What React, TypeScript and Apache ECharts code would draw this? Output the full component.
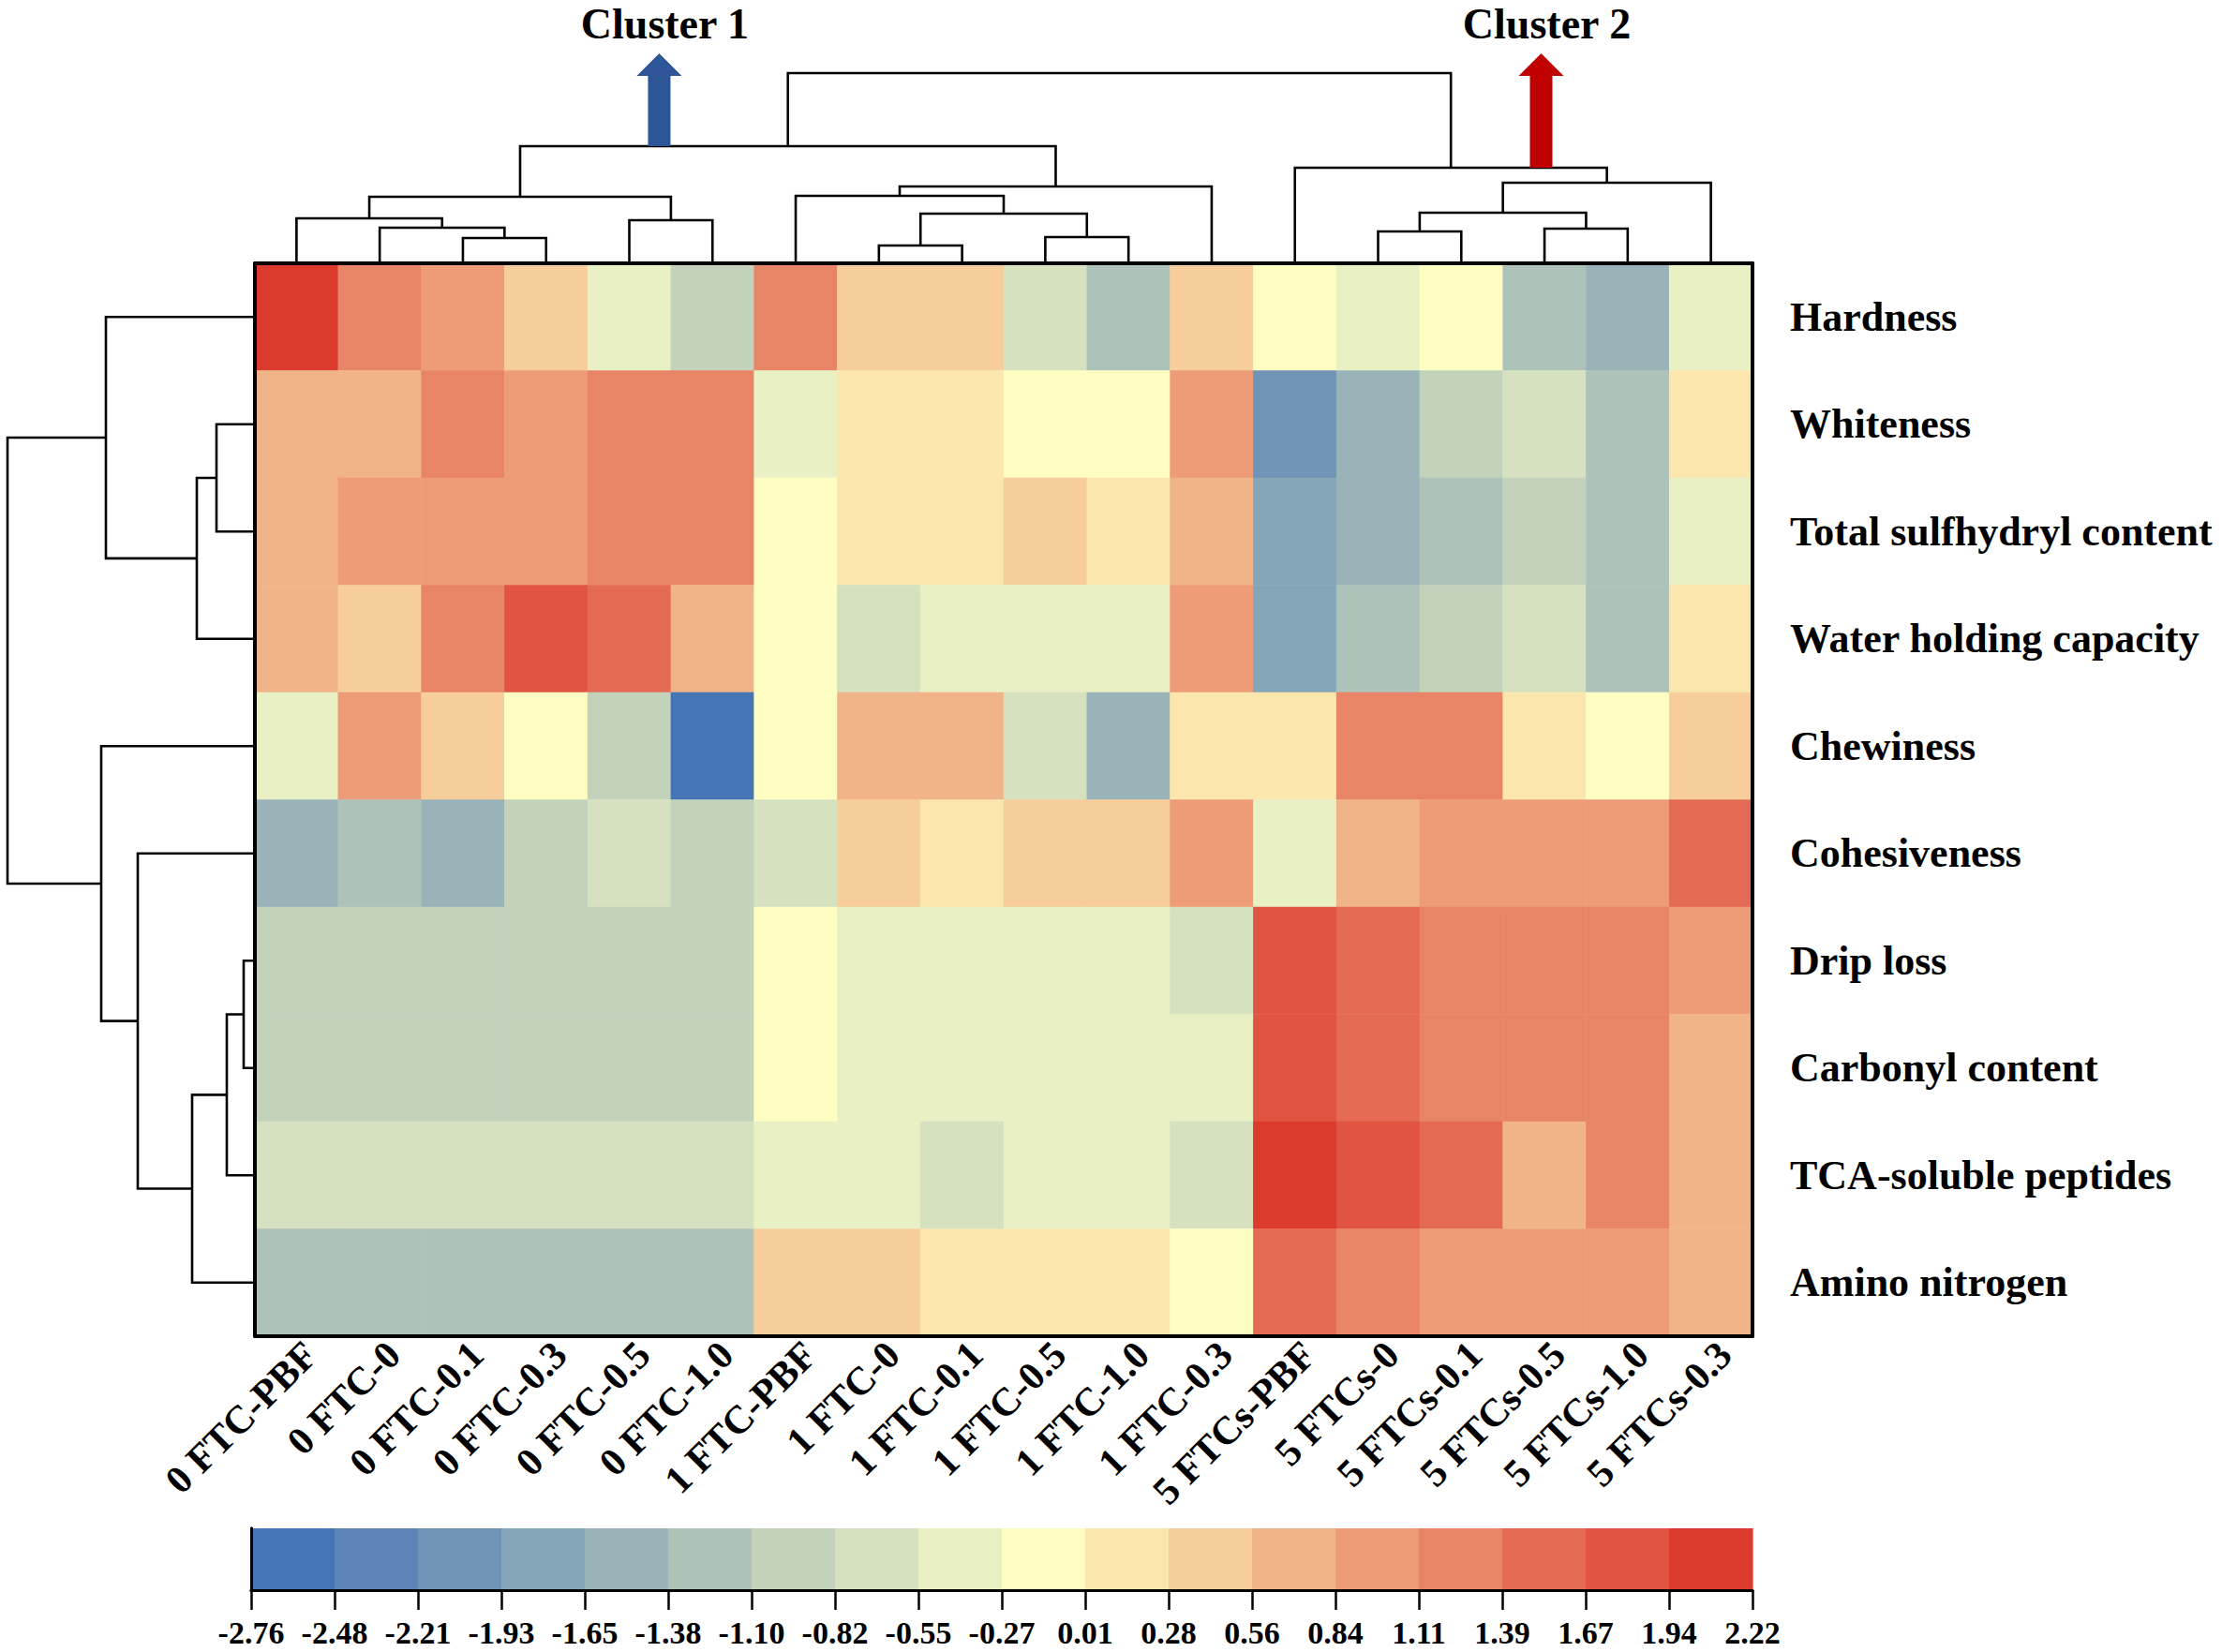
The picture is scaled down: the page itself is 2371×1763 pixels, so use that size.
import React, { useEffect, useRef } from "react";
import * as echarts from "echarts";

const FONT = '"Liberation Serif", "Times New Roman", serif';

// Column (sample) labels in dendrogram order
const columns = [
  "0 FTC-PBF", "0 FTC-0", "0 FTC-0.1", "0 FTC-0.3", "0 FTC-0.5", "0 FTC-1.0",
  "1 FTC-PBF", "1 FTC-0", "1 FTC-0.1", "1 FTC-0.5", "1 FTC-1.0", "1 FTC-0.3",
  "5 FTCs-PBF", "5 FTCs-0", "5 FTCs-0.1", "5 FTCs-0.5", "5 FTCs-1.0", "5 FTCs-0.3",
];

// Row (indicator) labels in dendrogram order
const rows = [
  "Hardness", "Whiteness", "Total sulfhydryl content", "Water holding capacity",
  "Chewiness", "Cohesiveness", "Drip loss", "Carbonyl content",
  "TCA-soluble peptides", "Amino nitrogen",
];

// Standardised values per row
const hardness = [2.15, 1.25, 0.98, 0.42, -0.41, -0.96, 1.25, 0.42, 0.42, -0.69, -1.24, 0.42, -0.13, -0.41, -0.13, -1.24, -1.52, -0.41];
const whiteness = [0.68, 0.66, 1.22, 0.95, 1.28, 1.26, -0.43, 0.18, 0.14, -0.1, -0.12, 0.97, -2.05, -1.5, -0.98, -0.7, -1.25, 0.16];
const sulfhydryl = [0.7, 0.97, 0.95, 0.99, 1.24, 1.27, -0.11, 0.17, 0.15, 0.44, 0.13, 0.71, -1.8, -1.55, -1.26, -0.95, -1.22, -0.4];
const waterHolding = [0.72, 0.4, 1.23, 1.8, 1.55, 0.69, -0.14, -0.68, -0.42, -0.39, -0.44, 0.99, -1.78, -1.23, -0.97, -0.71, -1.26, 0.14];
const chewiness = [-0.4, 0.96, 0.43, -0.12, -0.95, -2.7, -0.15, 0.7, 0.68, -0.7, -1.51, 0.15, 0.17, 1.26, 1.24, 0.13, -0.1, 0.41];
const cohesiveness = [-1.52, -1.25, -1.54, -0.96, -0.69, -0.97, -0.68, 0.42, 0.16, 0.43, 0.4, 0.98, -0.42, 0.71, 0.96, 0.98, 0.97, 1.54];
const dripLoss = [-0.96, -0.96, -0.96, -0.96, -0.96, -0.96, -0.1, -0.41, -0.41, -0.41, -0.41, -0.69, 1.82, 1.55, 1.25, 1.25, 1.25, 0.98];
const carbonyl = [-0.97, -0.97, -0.97, -0.97, -0.97, -0.97, -0.11, -0.42, -0.42, -0.42, -0.42, -0.42, 1.8, 1.52, 1.26, 1.26, 1.26, 0.7];
const tcaPeptides = [-0.69, -0.69, -0.69, -0.69, -0.69, -0.69, -0.42, -0.42, -0.7, -0.42, -0.42, -0.7, 2.2, 1.82, 1.53, 0.7, 1.25, 0.7];
const aminoNitrogen = [-1.25, -1.25, -1.25, -1.25, -1.25, -1.25, 0.42, 0.42, 0.15, 0.15, 0.15, -0.12, 1.54, 1.24, 0.98, 0.98, 0.98, 0.7];

const rowValues = [hardness, whiteness, sulfhydryl, waterHolding, chewiness, cohesiveness, dripLoss, carbonyl, tcaPeptides, aminoNitrogen];

// Colour-scale breaks and tick labels
const scaleBreaks = [-2.76, -2.48, -2.21, -1.93, -1.65, -1.38, -1.1, -0.82, -0.55, -0.27, 0.01, 0.28, 0.56, 0.84, 1.11, 1.39, 1.67, 1.94, 2.22];
const scaleTickLabels = ["-2.76", "-2.48", "-2.21", "-1.93", "-1.65", "-1.38", "-1.10", "-0.82", "-0.55", "-0.27", "0.01", "0.28", "0.56", "0.84", "1.11", "1.39", "1.67", "1.94", "2.22"];
const scaleColors = [
  "#4575b5", "#5b84b7", "#6f94b8", "#85a6b9", "#99b3b8", "#adc2b9", "#c2d2bb", "#d5e1bf", "#e8f0c4",
  "#fefec2", "#fbe6ae", "#f6cd9b", "#f1b489", "#ed9c77", "#e88567", "#e46a55", "#e05441", "#db3a2d",
];

// Column dendrogram linkage: [childA, childB, height]; ids < 18 are leaves
const colLinkage = [
  [2, 3, 2.7], [1, 18, 3.8], [0, 19, 4.8], [4, 5, 4.6], [20, 21, 7.1],
  [7, 8, 1.9], [9, 10, 2.8], [23, 24, 5.3], [6, 25, 7.2], [26, 11, 8.2],
  [22, 27, 12.5], [13, 14, 3.4], [15, 16, 3.7], [29, 30, 5.4], [31, 17, 8.6],
  [12, 32, 10.2], [28, 33, 20.3],
];
// Row dendrogram linkage; ids < 10 are leaves
const rowLinkage = [
  [1, 2, 4.1], [10, 3, 6.2], [0, 11, 15.9], [6, 7, 1.2], [13, 8, 3.0],
  [14, 9, 6.7], [5, 15, 12.5], [4, 16, 16.4], [12, 17, 26.4],
];

// Cluster annotations: node id in colLinkage, arrow position (column units)
const clusterNames = ["Cluster 1", "Cluster 2"];
const clusterNodes = [28, 33];
const clusterArrowX = [4.86, 15.46];
const clusterColors = ["#2e5597", "#c00000"];
const arrowTopHeight = 22.4;

function dendroLinks(linkage: number[][], n: number) {
  const pos: number[] = [];
  const hgt: number[] = [];
  for (let i = 0; i < n; i++) { pos[i] = i + 0.5; hgt[i] = 0; }
  const links: number[][] = [];
  linkage.forEach((m, k) => {
    const [a, b, h] = m;
    const id = n + k;
    pos[id] = (pos[a] + pos[b]) / 2;
    hgt[id] = h;
    links.push([pos[a], hgt[a], pos[b], hgt[b], h]);
  });
  return { links, hgt };
}

export default function App() {
  const ref = useRef<HTMLDivElement>(null);
  useEffect(() => {
    if (!ref.current) return;
    const chart = echarts.init(ref.current, undefined, { renderer: "svg" });

    const heatData: number[][] = [];
    rowValues.forEach((vals, r) => vals.forEach((v, c) => heatData.push([c, r, v])));

    const pieces = scaleColors.map((color, i) =>
      i === scaleColors.length - 1
        ? { gte: scaleBreaks[i], lte: scaleBreaks[i + 1] + 1, color }
        : i === 0
        ? { gte: scaleBreaks[i] - 1, lt: scaleBreaks[i + 1], color }
        : { gte: scaleBreaks[i], lt: scaleBreaks[i + 1], color }
    );

    const col = dendroLinks(colLinkage, columns.length);
    const row = dendroLinks(rowLinkage, rows.length);

    const lineStyle = { stroke: "#000", lineWidth: 2.6, fill: null };
    const blackLine = { show: true, lineStyle: { color: "#000", width: 4 } };

    const option: any = {
      animation: false,
      backgroundColor: "#fff",
      grid: [
        { left: 272, top: 281, width: 1598, height: 1145 },
        { left: 268, top: 1631, width: 1602, height: 66 },
        { left: 272, top: 78, width: 1598, height: 203 },
        { left: 8, top: 281, width: 264, height: 1145 },
      ],
      visualMap: { type: "piecewise", show: false, seriesIndex: 0, dimension: 2, pieces },
      xAxis: [
        {
          gridIndex: 0, type: "category", data: columns, position: "bottom", z: 10,
          axisLine: blackLine, axisTick: { show: false }, splitLine: { show: false },
          axisLabel: {
            rotate: 45, fontSize: 42, fontWeight: "bold", fontFamily: FONT, color: "#000",
            margin: -2, interval: 0, align: "right", verticalAlign: "top",
          },
        },
        {
          gridIndex: 0, type: "category", data: columns, position: "top", z: 10,
          axisLine: blackLine, axisTick: { show: false }, axisLabel: { show: false },
        },
        {
          gridIndex: 1, type: "value", min: 0, max: 18, interval: 1, position: "bottom", z: 10,
          axisLine: { show: true, lineStyle: { color: "#000", width: 3 } },
          axisTick: { show: true, length: 21, lineStyle: { color: "#000", width: 2.5 } },
          splitLine: { show: false },
          axisLabel: {
            formatter: (v: number) => scaleTickLabels[Math.round(v)],
            fontSize: 34, fontWeight: "bold", fontFamily: FONT, color: "#000", margin: 28,
            showMinLabel: true, showMaxLabel: true,
          },
        },
        {
          gridIndex: 1, type: "value", min: 0, max: 18, position: "top", z: 10,
          axisLine: { show: true, lineStyle: { color: "#000", width: 3 } },
          axisTick: { show: false }, axisLabel: { show: false }, splitLine: { show: false },
        },
        { gridIndex: 2, type: "value", min: 0, max: 18, show: false },
        { gridIndex: 3, type: "value", min: 0, max: 26.4, inverse: true, show: false },
      ],
      yAxis: [
        {
          gridIndex: 0, type: "category", data: rows, inverse: true, position: "right", z: 10,
          axisLine: blackLine, axisTick: { show: false }, splitLine: { show: false },
          axisLabel: { fontSize: 44, fontWeight: "bold", fontFamily: FONT, color: "#000", margin: 40 },
        },
        {
          gridIndex: 0, type: "category", data: rows, inverse: true, position: "left", z: 10,
          axisLine: blackLine, axisTick: { show: false }, axisLabel: { show: false },
        },
        {
          gridIndex: 1, type: "value", min: 0, max: 1, position: "left", z: 10,
          axisLine: { show: true, lineStyle: { color: "#000", width: 3 } },
          axisTick: { show: false }, axisLabel: { show: false }, splitLine: { show: false },
        },
        {
          gridIndex: 1, type: "value", min: 0, max: 1, position: "right", z: 10,
          axisLine: { show: true, lineStyle: { color: "#000", width: 3 } },
          axisTick: { show: false }, axisLabel: { show: false }, splitLine: { show: false },
        },
        { gridIndex: 2, type: "value", min: 0, max: 20.3, show: false },
        { gridIndex: 3, type: "value", min: 0, max: 10, inverse: true, show: false },
      ],
      series: [
        {
          type: "heatmap", xAxisIndex: 0, yAxisIndex: 0, data: heatData,
          itemStyle: { borderWidth: 0 }, emphasis: { disabled: true },
        },
        {
          type: "custom", xAxisIndex: 2, yAxisIndex: 2,
          data: scaleColors.map((_, i) => [i, i + 1]),
          renderItem: (params: any, api: any) => {
            const p0 = api.coord([api.value(0), 0]);
            const p1 = api.coord([api.value(1), 1]);
            return {
              type: "rect",
              shape: { x: p0[0], y: p1[1], width: p1[0] - p0[0] + 0.6, height: p0[1] - p1[1] },
              style: { fill: scaleColors[params.dataIndex] },
            };
          },
        },
        {
          type: "custom", xAxisIndex: 4, yAxisIndex: 4, data: col.links,
          renderItem: (_p: any, api: any) => {
            const a = api.coord([api.value(0), api.value(1)]);
            const b = api.coord([api.value(0), api.value(4)]);
            const c = api.coord([api.value(2), api.value(4)]);
            const d = api.coord([api.value(2), api.value(3)]);
            return { type: "polyline", shape: { points: [a, b, c, d] }, style: lineStyle };
          },
        },
        {
          type: "custom", xAxisIndex: 5, yAxisIndex: 5, data: row.links,
          renderItem: (_p: any, api: any) => {
            const a = api.coord([api.value(1), api.value(0)]);
            const b = api.coord([api.value(4), api.value(0)]);
            const c = api.coord([api.value(4), api.value(2)]);
            const d = api.coord([api.value(3), api.value(2)]);
            return { type: "polyline", shape: { points: [a, b, c, d] }, style: lineStyle };
          },
        },
        {
          type: "custom", xAxisIndex: 4, yAxisIndex: 4, z: 5,
          data: clusterNodes.map((node, i) => [clusterArrowX[i], col.hgt[node], arrowTopHeight]),
          renderItem: (params: any, api: any) => {
            const base = api.coord([api.value(0), api.value(1)]);
            const top = api.coord([api.value(0), api.value(2)]);
            const x = base[0];
            const hy = top[1] + 24;
            const color = clusterColors[params.dataIndex];
            return {
              type: "group",
              children: [
                {
                  type: "polygon",
                  shape: {
                    points: [
                      [x - 12, base[1]], [x - 12, hy], [x - 24, hy], [x, top[1]],
                      [x + 24, hy], [x + 12, hy], [x + 12, base[1]],
                    ],
                  },
                  style: { fill: color },
                },
                {
                  type: "text",
                  style: {
                    text: clusterNames[params.dataIndex],
                    x: x + 6, y: top[1] - 32,
                    align: "center", verticalAlign: "middle",
                    font: `bold 46px ${FONT}`, fill: "#000",
                  },
                },
              ],
            };
          },
        },
      ],
    };
    chart.setOption(option);
    return () => chart.dispose();
  }, []);
  return <div ref={ref} style={{ position: "absolute", left: 0, top: 0, width: 2371, height: 1763 }} />;
}
